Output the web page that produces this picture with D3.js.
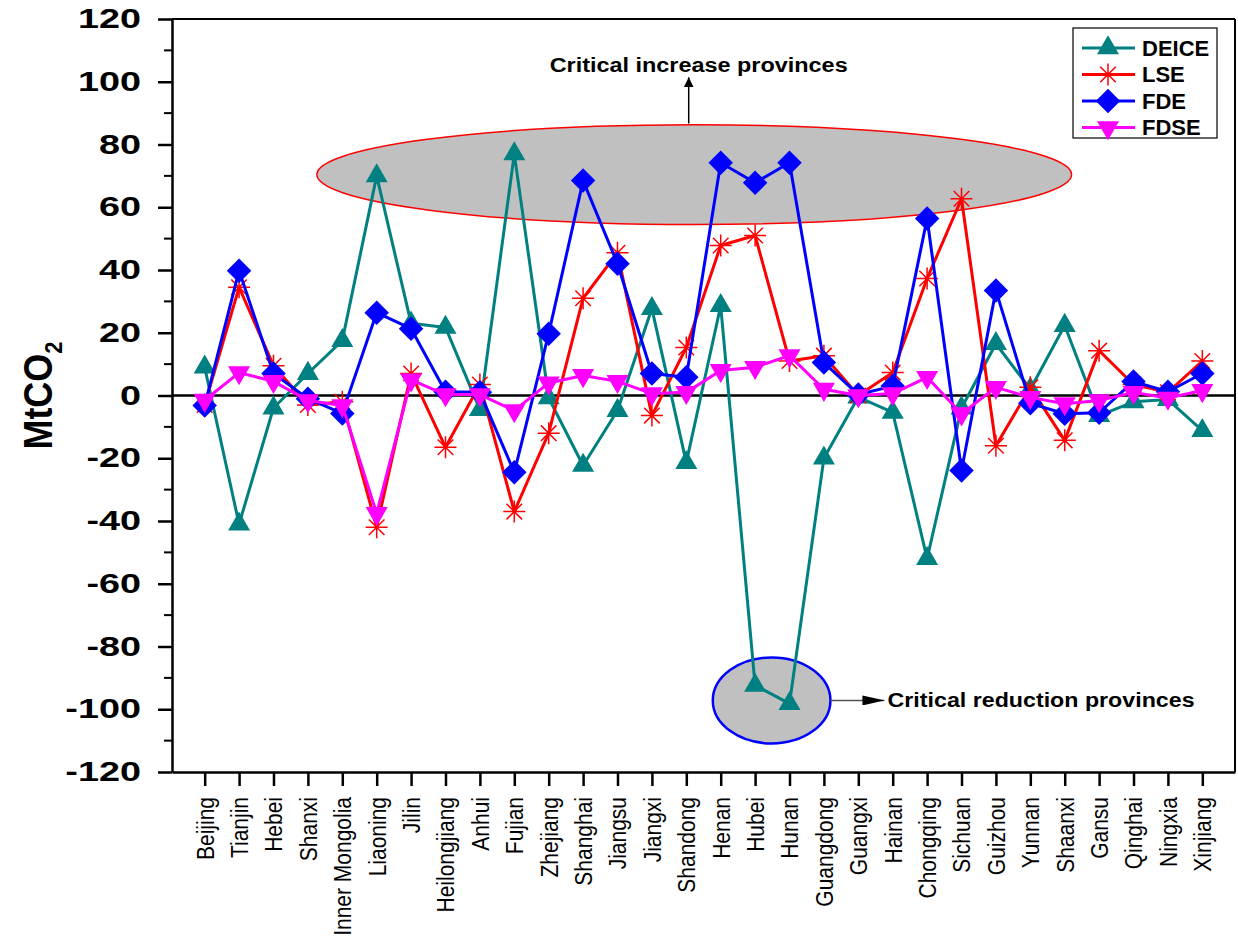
<!DOCTYPE html>
<html>
<head>
<meta charset="utf-8">
<script src="https://cdn.jsdelivr.net/npm/d3@7"></script>
<style>
  body { margin: 0; background: #fff; }
  svg { font-family: "Liberation Sans", Arial, sans-serif; }
</style>
</head>
<body>
<div id="chart"></div>
<script>
// provinces along the x axis
const provinces = ["Beijing","Tianjin","Hebei","Shanxi","Inner Mongolia","Liaoning","Jilin",
  "Heilongjiang","Anhui","Fujian","Zhejiang","Shanghai","Jiangsu","Jiangxi","Shandong","Henan",
  "Hubei","Hunan","Guangdong","Guangxi","Hainan","Chongqing","Sichuan","Guizhou","Yunnan",
  "Shaanxi","Gansu","Qinghai","Ningxia","Xinjiang"];

// series values (MtCO2)
const deice = [9, -41, -4, 7, 17.5, 70, 23, 21.7, -4.5, 77, -0.8, -22.3, -4.8, 27.7, -21.4, 28.6,
  -92.4, -98.2, -20, -0.5, -5.4, -52, -4, 16.5, 2, 22.3, -6.4, -2, -1.3, -11.2];
const lse = [-3, 34.5, 9.5, -3, -2, -42, 7, -16.5, 3.5, -37, -12, 31, 45.5, -6.4, 15.3, 47.8,
  51, 11, 12.7, 0, 7.3, 37.3, 62.7, -16, 2.6, -14.3, 14.3, 3.5, 1, 11];
const fde = [-3.2, 39.8, 7, -1, -5.7, 26.4, 21.3, 1.2, 1, -24.5, 19.7, 68.5, 42, 7, 5.8, 74.2,
  67.8, 74.2, 10.5, 0.3, 3, 56.4, -23.9, 33.5, -2.5, -5.8, -5.5, 4.5, 1.2, 7];
const fdse = [-1.5, 7.3, 4.5, -1.6, -3.2, -37.6, 5, 0.3, 0.3, -4.8, 4, 6.4, 4.5, 0.6, 1, 8,
  9, 12.7, 2, 0, 0.6, 5.8, -5.8, 2.6, -0.6, -2.6, -1.6, 1, -0.8, 1.6];

const seriesNames = ["DEICE", "LSE", "FDE", "FDSE"];
const seriesValues = [deice, lse, fde, fdse];
const seriesColors = ["#008080", "#ff0000", "#0000ff", "#ff00ff"];
const seriesMarkers = ["triangle", "asterisk", "diamond", "triangleDown"];

// y ticks
const yTicks = d3.range(-120, 121, 20);
const yMinorTicks = d3.range(-110, 120, 20);

const W = 1238, H = 942;
const margin = {left: 172, right: 3, top: 19, bottom: 170};

const svg = d3.select("#chart").append("svg")
  .attr("width", W).attr("height", H);

const x = d3.scalePoint()
  .domain(provinces)
  .range([margin.left, W - margin.right])
  .padding(0.95);

// index scale for annotation placement (category units)
const xi = d3.scaleLinear()
  .domain([0, provinces.length - 1])
  .range([x(provinces[0]), x(provinces[provinces.length - 1])]);

const y = d3.scaleLinear()
  .domain([-120, 120])
  .range([H - margin.bottom, margin.top]);

const x0 = margin.left, x1 = W - margin.right;

//////////////// annotations (ellipses behind the lines) ////////////////
const ann = svg.append("g");

// critical increase provinces
ann.append("ellipse")
  .attr("cx", xi(14.23)).attr("cy", y(70.4))
  .attr("rx", xi(14.23 + 10.97) - xi(14.23))
  .attr("ry", y(70.4) - y(70.4 + 15.9))
  .attr("fill", "#c0c0c0")
  .attr("stroke", "#ff0000").attr("stroke-width", 1.5);

// critical reduction provinces
ann.append("ellipse")
  .attr("cx", xi(16.48)).attr("cy", y(-97.2))
  .attr("rx", xi(16.48 + 1.71) - xi(16.48))
  .attr("ry", y(-97.2 - 13.7) - y(-97.2))
  .attr("fill", "#c0c0c0")
  .attr("stroke", "#0000ff").attr("stroke-width", 2.5);

const defs = svg.append("defs");
defs.append("marker")
  .attr("id", "arrow")
  .attr("viewBox", "0 0 10 10")
  .attr("refX", 10).attr("refY", 5)
  .attr("markerWidth", 10).attr("markerHeight", 12)
  .attr("markerUnits", "userSpaceOnUse")
  .attr("orient", "auto")
  .append("path")
  .attr("d", "M0,0 L10,5 L0,10 Z")
  .attr("fill", "#000");
defs.append("marker")
  .attr("id", "arrowWide")
  .attr("viewBox", "0 0 10 10")
  .attr("refX", 10).attr("refY", 5)
  .attr("markerWidth", 22).attr("markerHeight", 10)
  .attr("markerUnits", "userSpaceOnUse")
  .attr("orient", "auto")
  .attr("preserveAspectRatio", "none")
  .append("path")
  .attr("d", "M0,0 L10,5 L0,10 Z")
  .attr("fill", "#000");

//////////////// zero line ////////////////
svg.append("line")
  .attr("x1", x0).attr("x2", x1)
  .attr("y1", y(0)).attr("y2", y(0))
  .attr("stroke", "#000").attr("stroke-width", 2.5);

//////////////// axes ////////////////
const yAxis = svg.append("g")
  .attr("transform", `translate(${x0},0)`)
  .call(d3.axisLeft(y).tickValues(yTicks).tickFormat(d => String(d))
    .tickSize(14).tickSizeOuter(0).tickPadding(10));
yAxis.select(".domain").attr("stroke-width", 2.5);
yAxis.selectAll(".tick line").attr("stroke-width", 2.5);
yAxis.selectAll(".tick text")
  .attr("font-size", 27).attr("font-weight", "bold").attr("fill", "#000")
  .attr("transform", "translate(-31,0) scale(1.4,1)")
  .attr("x", 0);

svg.append("g").selectAll("line")
  .data(yMinorTicks)
  .join("line")
  .attr("x1", x0 - 8).attr("x2", x0)
  .attr("y1", d => y(d)).attr("y2", d => y(d))
  .attr("stroke", "#000").attr("stroke-width", 2);

const xAxis = svg.append("g")
  .attr("transform", `translate(0,${y(-120)})`)
  .call(d3.axisBottom(x).tickSize(14).tickSizeOuter(0));
xAxis.select(".domain").attr("stroke-width", 2.5);
xAxis.selectAll(".tick line").attr("stroke-width", 2.5);
xAxis.selectAll(".tick text")
  .attr("font-size", 21).attr("fill", "#000")
  .attr("transform", "rotate(-90) scale(1,1.15)")
  .attr("text-anchor", "end")
  .attr("x", -25).attr("y", 0).attr("dy", "0.35em");

// frame top and right
svg.append("line").attr("x1", x0).attr("x2", x1).attr("y1", y(120)).attr("y2", y(120))
  .attr("stroke", "#000").attr("stroke-width", 2);
svg.append("line").attr("x1", x1).attr("x2", x1).attr("y1", y(120)).attr("y2", y(-120))
  .attr("stroke", "#000").attr("stroke-width", 2);

// y title
svg.append("text")
  .attr("transform", `translate(52,${y(0)}) rotate(-90) scale(1,1.12)`)
  .attr("text-anchor", "middle")
  .attr("font-size", 36).attr("font-weight", "bold")
  .html('MtCO<tspan font-size="22" dy="9">2</tspan>');

//////////////// markers ////////////////
function markerPath(type) {
  if (type === "triangle") return d3.symbol(d3.symbolTriangle, 210)();
  if (type === "triangleDown") return d3.symbol(d3.symbolTriangle, 210)();
  if (type === "diamond") return d3.symbol(d3.symbolSquare, 300)();
  const r = 11, k = r * Math.SQRT1_2;
  return `M0,${-r}V${r}M${-r},0H${r}M${-k},${-k}L${k},${k}M${-k},${k}L${k},${-k}`;
}
function markerRot(type) {
  if (type === "triangleDown") return " rotate(180)";
  if (type === "diamond") return " rotate(45)";
  return "";
}
function drawMarker(sel, type, color) {
  sel.attr("d", markerPath(type))
    .attr("fill", type === "asterisk" ? "none" : color)
    .attr("stroke", type === "asterisk" ? color : "none")
    .attr("stroke-width", type === "asterisk" ? 1.5 : 0);
}

//////////////// series ////////////////
const line = d3.line()
  .x((d, i) => x(provinces[i]))
  .y(d => y(d));

seriesValues.forEach((vals, s) => {
  const g = svg.append("g");
  g.append("path")
    .attr("d", line(vals))
    .attr("fill", "none")
    .attr("stroke", seriesColors[s])
    .attr("stroke-width", 3)
    .attr("stroke-linejoin", "round");
  g.selectAll("path.mk")
    .data(vals)
    .join("path")
    .attr("class", "mk")
    .attr("transform", (d, i) => `translate(${x(provinces[i])},${y(d)})${markerRot(seriesMarkers[s])}`)
    .call(drawMarker, seriesMarkers[s], seriesColors[s]);
});

//////////////// annotation arrows and labels ////////////////
svg.append("line")
  .attr("x1", xi(14.07)).attr("x2", xi(14.07))
  .attr("y1", y(86.7)).attr("y2", y(101.4))
  .attr("stroke", "#000").attr("stroke-width", 1.5)
  .attr("marker-end", "url(#arrow)");
svg.append("text")
  .attr("x", xi(14.36)).attr("y", y(103))
  .attr("text-anchor", "middle")
  .attr("font-size", 20).attr("font-weight", "bold")
  .attr("textLength", 298).attr("lengthAdjust", "spacingAndGlyphs")
  .text("Critical increase provinces");

svg.append("line")
  .attr("x1", xi(18.19)).attr("x2", xi(19.76))
  .attr("y1", y(-97.2)).attr("y2", y(-97.2))
  .attr("stroke", "#555").attr("stroke-width", 1.5)
  .attr("marker-end", "url(#arrowWide)");
svg.append("text")
  .attr("x", xi(19.85)).attr("y", y(-97.2)).attr("dy", "0.35em")
  .attr("font-size", 20).attr("font-weight", "bold")
  .attr("textLength", 307).attr("lengthAdjust", "spacingAndGlyphs")
  .text("Critical reduction provinces");

//////////////// legend ////////////////
const legend = svg.append("g").attr("transform", "translate(1073,28)");
legend.append("rect")
  .attr("width", 144).attr("height", 110)
  .attr("fill", "#fff").attr("stroke", "#000").attr("stroke-width", 1.2);
const legRows = legend.selectAll("g.row")
  .data(seriesNames)
  .join("g")
  .attr("class", "row")
  .attr("transform", (d, i) => `translate(0,${20 + i * 26.5})`);
legRows.append("line")
  .attr("x1", 9).attr("x2", 62)
  .attr("stroke", (d, i) => seriesColors[i]).attr("stroke-width", 3);
legRows.append("path")
  .each(function(d, i) {
    d3.select(this)
      .attr("transform", `translate(35,0)${markerRot(seriesMarkers[i])}`)
      .call(drawMarker, seriesMarkers[i], seriesColors[i]);
  });
legRows.append("text")
  .attr("x", 69).attr("dy", "0.36em")
  .attr("font-size", 22).attr("font-weight", "bold")
  .text(d => d);
</script>
</body>
</html>
